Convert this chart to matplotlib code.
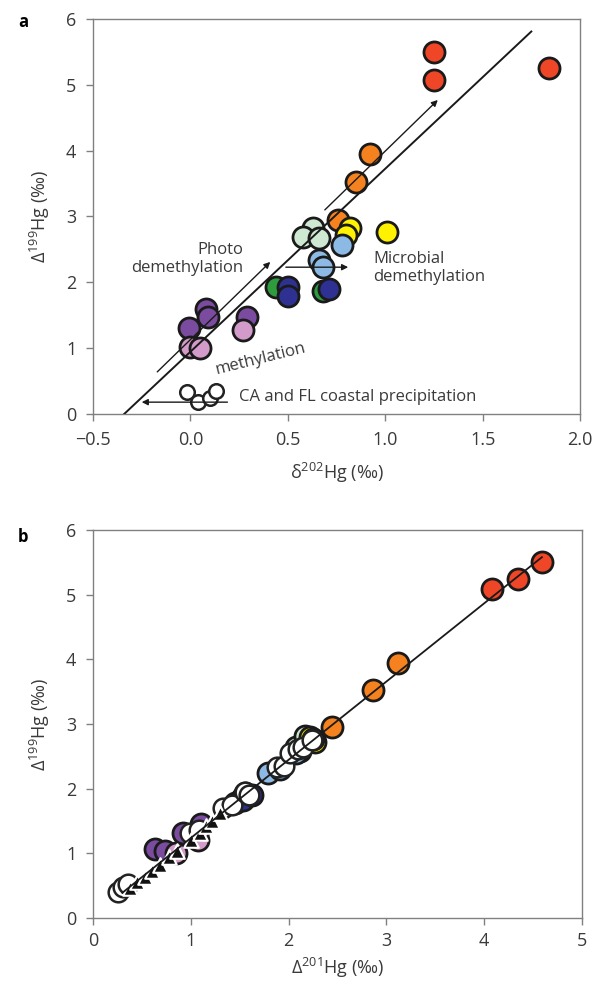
import numpy as np
import matplotlib
matplotlib.use('Agg')
import matplotlib.pyplot as plt

plt.rcParams['font.family'] = ['Open Sans', 'DejaVu Sans']
plt.rcParams['mathtext.default'] = 'regular'

# ---- panel a data (d202Hg, D199Hg) ----
red_a_x = [1.25, 1.25, 1.84]
red_a_y = [5.50, 5.08, 5.26]
orange_a_x = [0.92, 0.85, 0.76]
orange_a_y = [3.95, 3.53, 2.95]
mint_a_x = [0.63, 0.58, 0.66]
mint_a_y = [2.83, 2.69, 2.67]
yellow_a_x = [1.01, 0.82, 0.80]
yellow_a_y = [2.77, 2.83, 2.72]
lblue_a_x = [0.78, 0.66, 0.68]
lblue_a_y = [2.57, 2.34, 2.23]
green_a_x = [0.44, 0.68]
green_a_y = [1.93, 1.87]
navy_a_x = [0.50, 0.50, 0.71]
navy_a_y = [1.93, 1.79, 1.90]
purple_a_x = [0.08, 0.09, -0.005, 0.29]
purple_a_y = [1.59, 1.47, 1.30, 1.47]
pink_a_x = [0.27, 0.0, 0.05]
pink_a_y = [1.28, 1.02, 1.00]
open_a_x = [-0.015, 0.04, 0.10, 0.13]
open_a_y = [0.33, 0.18, 0.24, 0.35]
fit_a_x = [-0.34, 1.75]
fit_a_y = [0.0, 5.81]

# ---- panel b data (D201Hg, D199Hg) ----
red_b_x = [4.08, 4.35, 4.59]
red_b_y = [5.08, 5.25, 5.50]
orange_b_x = [2.44, 2.86, 3.12]
orange_b_y = [2.95, 3.53, 3.95]
mint_b_x = [2.08, 2.12, 2.17]
mint_b_y = [2.65, 2.58, 2.82]
yellow_b_x = [2.22, 2.27, 2.25]
yellow_b_y = [2.80, 2.72, 2.77]
lblue_b_x = [1.79, 1.91, 2.08]
lblue_b_y = [2.25, 2.30, 2.55]
green_b_x = [1.52, 1.55]
green_b_y = [1.86, 1.93]
navy_b_x = [1.45, 1.53, 1.63]
navy_b_y = [1.78, 1.82, 1.90]
purple_b_x = [0.63, 0.74, 0.92, 1.10]
purple_b_y = [1.06, 1.03, 1.32, 1.45]
pink_b_x = [0.85, 1.07]
pink_b_y = [1.00, 1.20]
open_b_x = [0.26, 0.31, 0.36, 0.99, 1.08, 1.33, 1.42, 1.55, 1.60, 1.88, 1.95, 2.01, 2.10, 2.15, 2.24]
open_b_y = [0.40, 0.48, 0.52, 1.31, 1.36, 1.70, 1.74, 1.95, 1.90, 2.33, 2.35, 2.55, 2.62, 2.64, 2.75]
tri_b_x = [0.38, 0.45, 0.53, 0.60, 0.69, 0.78, 0.86, 1.00, 1.09, 1.16, 1.22, 1.30]
tri_b_y = [0.47, 0.55, 0.63, 0.72, 0.82, 0.95, 1.04, 1.20, 1.32, 1.42, 1.50, 1.62]
fit_b_x = [0.30, 4.59]
fit_b_y = [0.39, 5.58]

colors = {
    'red': '#EE4627', 'orange': '#F5821F', 'mint': '#CFE8D2', 'yellow': '#FFF200',
    'lblue': '#8DBAE5', 'green': '#2F9B3F', 'navy': '#2E3192', 'purple': '#7A4B9F',
    'pink': '#D39BC9',
}

fig = plt.figure(figsize=(5.93, 9.82), dpi=100)
ax1 = fig.add_axes([93/593, 1-414/982, 487/593, 395/982])
ax2 = fig.add_axes([93/593, 1-918/982, 489/593, 388/982])

S = 230
EW = 2.0


def dots(ax, x, y, c, s=S):
    ax.scatter(x, y, s=s, c=c, edgecolors='#1a1a1a', linewidths=EW, zorder=3)


# panel a
dots(ax1, red_a_x, red_a_y, colors['red'])
dots(ax1, orange_a_x, orange_a_y, colors['orange'])
dots(ax1, mint_a_x, mint_a_y, colors['mint'])
dots(ax1, yellow_a_x, yellow_a_y, colors['yellow'])
dots(ax1, lblue_a_x, lblue_a_y, colors['lblue'])
dots(ax1, green_a_x, green_a_y, colors['green'])
dots(ax1, navy_a_x, navy_a_y, colors['navy'])
dots(ax1, purple_a_x, purple_a_y, colors['purple'])
dots(ax1, pink_a_x, pink_a_y, colors['pink'])
ax1.scatter(open_a_x, open_a_y, s=110, facecolors='white', edgecolors='#222222',
            linewidths=1.8, zorder=3)
ax1.plot(fit_a_x, fit_a_y, color='#1a1a1a', lw=1.4, zorder=4)

arr = dict(arrowstyle='-|>', color='#1a1a1a', lw=1.0, mutation_scale=9,
           shrinkA=0, shrinkB=0)
ax1.annotate('', xy=(0.41, 2.31), xytext=(-0.17, 0.64), arrowprops=arr, zorder=5)
ax1.annotate('', xy=(1.27, 4.77), xytext=(0.69, 3.10), arrowprops=arr, zorder=5)
ax1.annotate('', xy=(0.81, 2.23), xytext=(0.49, 2.23), arrowprops=arr, zorder=5)
ax1.annotate('', xy=(-0.25, 0.18), xytext=(0.19, 0.18), arrowprops=arr, zorder=5)

tcol = '#3a3a3a'
afs = 12
ax1.text(0.27, 2.36, 'Photo\ndemethylation', ha='right', va='center',
         multialignment='right', fontsize=afs, color=tcol, linespacing=1.15)
ax1.text(0.94, 2.22, 'Microbial\ndemethylation', ha='left', va='center',
         multialignment='left', fontsize=afs, color=tcol, linespacing=1.15)
ax1.text(0.36, 0.83, 'methylation', ha='center', va='center', rotation=14,
         fontsize=afs, color=tcol)
ax1.text(0.25, 0.26, 'CA and FL coastal precipitation', ha='left', va='center',
         fontsize=afs, color=tcol)

ax1.set_xlim(-0.5, 2.0)
ax1.set_ylim(0, 6)
ax1.set_xticks([-0.5, 0.0, 0.5, 1.0, 1.5, 2.0])
ax1.set_xticklabels(['\u22120.5', '0.0', '0.5', '1.0', '1.5', '2.0'])
ax1.set_yticks([0, 1, 2, 3, 4, 5, 6])
ax1.set_xlabel(r'$\delta^{202}$Hg (‰)', fontsize=13, color=tcol, labelpad=9)
ax1.set_ylabel(r'$\Delta^{199}$Hg (‰)', fontsize=13, color=tcol, labelpad=10)

# panel b
dots(ax2, red_b_x, red_b_y, colors['red'])
dots(ax2, orange_b_x, orange_b_y, colors['orange'])
dots(ax2, mint_b_x, mint_b_y, colors['mint'])
dots(ax2, yellow_b_x, yellow_b_y, colors['yellow'])
dots(ax2, lblue_b_x, lblue_b_y, colors['lblue'])
dots(ax2, green_b_x, green_b_y, colors['green'])
dots(ax2, navy_b_x, navy_b_y, colors['navy'])
dots(ax2, purple_b_x, purple_b_y, colors['purple'])
dots(ax2, pink_b_x, pink_b_y, colors['pink'])
ax2.scatter(open_b_x, open_b_y, s=200, facecolors='white', edgecolors='#222222',
            linewidths=1.8, zorder=3)
ax2.scatter(tri_b_x, tri_b_y, s=110, marker='^', c='#111111', edgecolors='white',
            linewidths=1.5, zorder=3)
ax2.plot(fit_b_x, fit_b_y, color='#1a1a1a', lw=1.3, zorder=4)

ax2.set_xlim(0, 5)
ax2.set_ylim(0, 6)
ax2.set_xticks([0, 1, 2, 3, 4, 5])
ax2.set_yticks([0, 1, 2, 3, 4, 5, 6])
ax2.set_xlabel(r'$\Delta^{201}$Hg (‰)', fontsize=13, color=tcol, labelpad=4)
ax2.set_ylabel(r'$\Delta^{199}$Hg (‰)', fontsize=13, color=tcol, labelpad=10)

for ax in (ax1, ax2):
    for sp in ax.spines.values():
        sp.set_color('#808080')
        sp.set_linewidth(1.0)
    ax.tick_params(direction='out', length=5, width=1.0, color='#808080',
                   labelsize=13, labelcolor=tcol, pad=7)
ax2.tick_params(axis='x', pad=5)

fig.text(18/593, 1-22/982, 'a', fontsize=12, fontweight='bold', ha='left', va='center')
fig.text(18/593, 1-537/982, 'b', fontsize=12, fontweight='bold', ha='left', va='center')

fig.savefig('out.png', dpi=100)
